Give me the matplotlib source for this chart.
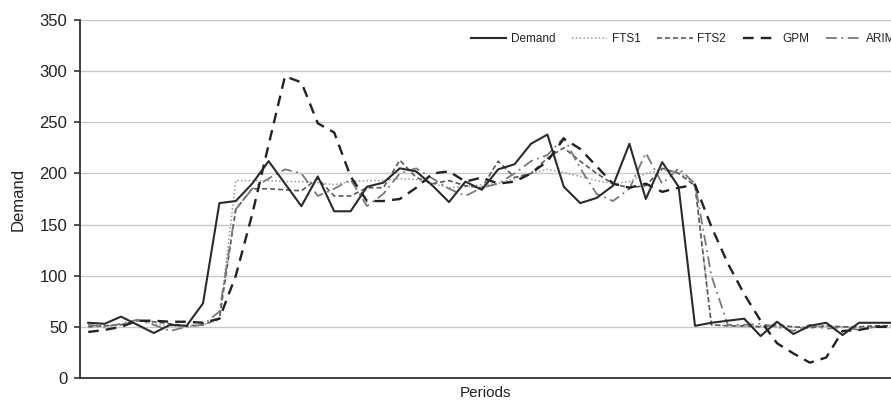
import matplotlib
matplotlib.use("Agg")
import matplotlib.pyplot as plt

plt.rcParams['font.family'] = ['Liberation Sans', 'DejaVu Sans']

# values, one per period
periods = list(range(1, 51))

demand = [54, 53, 60, 52, 44, 52, 51, 73, 171, 173,
          190, 212, 190, 168, 197, 163, 163, 187, 191, 205,
          202, 188, 172, 192, 184, 204, 209, 229, 238, 187,
          171, 176, 188, 229, 175, 211, 187, 51, 54, 56,
          58, 41, 55, 43, 51, 54, 42, 54, 54, 54]

fts1 = [52, 51, 52, 57, 53, 51, 50, 52, 57, 193,
        193, 193, 192, 192, 191, 189, 192, 193, 193, 195,
        194, 190, 186, 187, 189, 190, 195, 200, 204, 201,
        197, 193, 190, 192, 200, 203, 202, 190, 52, 51,
        50, 51, 50, 50, 50, 51, 50, 50, 51, 51]

fts2 = [50, 51, 52, 56, 55, 53, 51, 52, 58, 165,
        185, 185, 184, 183, 195, 178, 178, 186, 186, 213,
        196, 190, 193, 188, 186, 212, 196, 200, 215, 225,
        212, 200, 190, 186, 188, 205, 200, 188, 52, 51,
        51, 50, 52, 50, 49, 51, 50, 50, 51, 51]

gpm = [45, 47, 50, 56, 56, 55, 55, 54, 58, 100,
       160, 228, 295, 289, 249, 240, 197, 173, 173, 175,
       186, 200, 202, 192, 196, 190, 192, 200, 212, 234,
       224, 207, 190, 186, 190, 182, 186, 189, 148, 112,
       82, 56, 34, 24, 15, 20, 46, 47, 50, 50]

arima = [52, 50, 53, 57, 52, 46, 50, 52, 65, 165,
         185, 195, 204, 200, 178, 185, 194, 168, 180, 200,
         205, 195, 185, 178, 186, 190, 200, 212, 218, 235,
         205, 180, 173, 185, 220, 190, 205, 190, 100, 52,
         52, 53, 50, 46, 52, 48, 50, 47, 50, 50]

W, H = 891, 403
fig = plt.figure(figsize=(W / 100, H / 100), dpi=100)
# the plot area runs past the right edge, like the cropped original
ax = fig.add_axes([80 / W, (H - 378) / H, 820 / W, 358 / H])

ax.plot(periods, fts1, color='#9a9a9a', lw=1.1, linestyle=(0, (1, 1.5)), label='FTS1', zorder=2)
ax.plot(periods, fts2, color='#5a5a5a', lw=1.2, linestyle=(0, (3, 1.8)), label='FTS2', zorder=3)
ax.plot(periods, arima, color='#7a7a7a', lw=1.3, linestyle=(0, (6, 2.5, 1, 2.5)), label='ARIMA', zorder=3)
ax.plot(periods, gpm, color='#222222', lw=1.7, linestyle=(0, (4.5, 3)), label='GPM', zorder=4)
ax.plot(periods, demand, color='#2b2b2b', lw=1.5, label='Demand', zorder=5)

ax.set_xlim(0.5, 50.5)
ax.set_ylim(0, 350)
ax.set_yticks(range(0, 351, 50))
ax.set_xticks([])
ax.yaxis.grid(True, color='#c8c8c8', lw=1)
ax.set_axisbelow(True)

for side in ['top', 'right']:
    ax.spines[side].set_visible(False)
for side in ['left', 'bottom']:
    ax.spines[side].set_color('#333333')
    ax.spines[side].set_linewidth(1.3)

ax.tick_params(axis='y', length=4, width=1.2, color='#333333', pad=5,
               labelsize=12, labelcolor='#222222')

ax.set_ylabel('Demand', fontsize=12, color='#222222')
ax.yaxis.set_label_coords(-0.066, 0.5)
ax.set_xlabel('Periods', fontsize=11, color='#222222')
ax.xaxis.set_label_coords(0.494, -0.022)

handles, labels = ax.get_legend_handles_labels()
order = ['Demand', 'FTS1', 'FTS2', 'GPM', 'ARIMA']
hmap = dict(zip(labels, handles))
fig.legend([hmap[k] for k in order], order, loc='center left',
           bbox_to_anchor=(460 / W, 1 - 39 / H), ncol=5, frameon=False,
           fontsize=8.5, handlelength=3.0, handletextpad=0.4,
           columnspacing=1.4, labelcolor='#222222')

fig.savefig('out.png', dpi=100)
